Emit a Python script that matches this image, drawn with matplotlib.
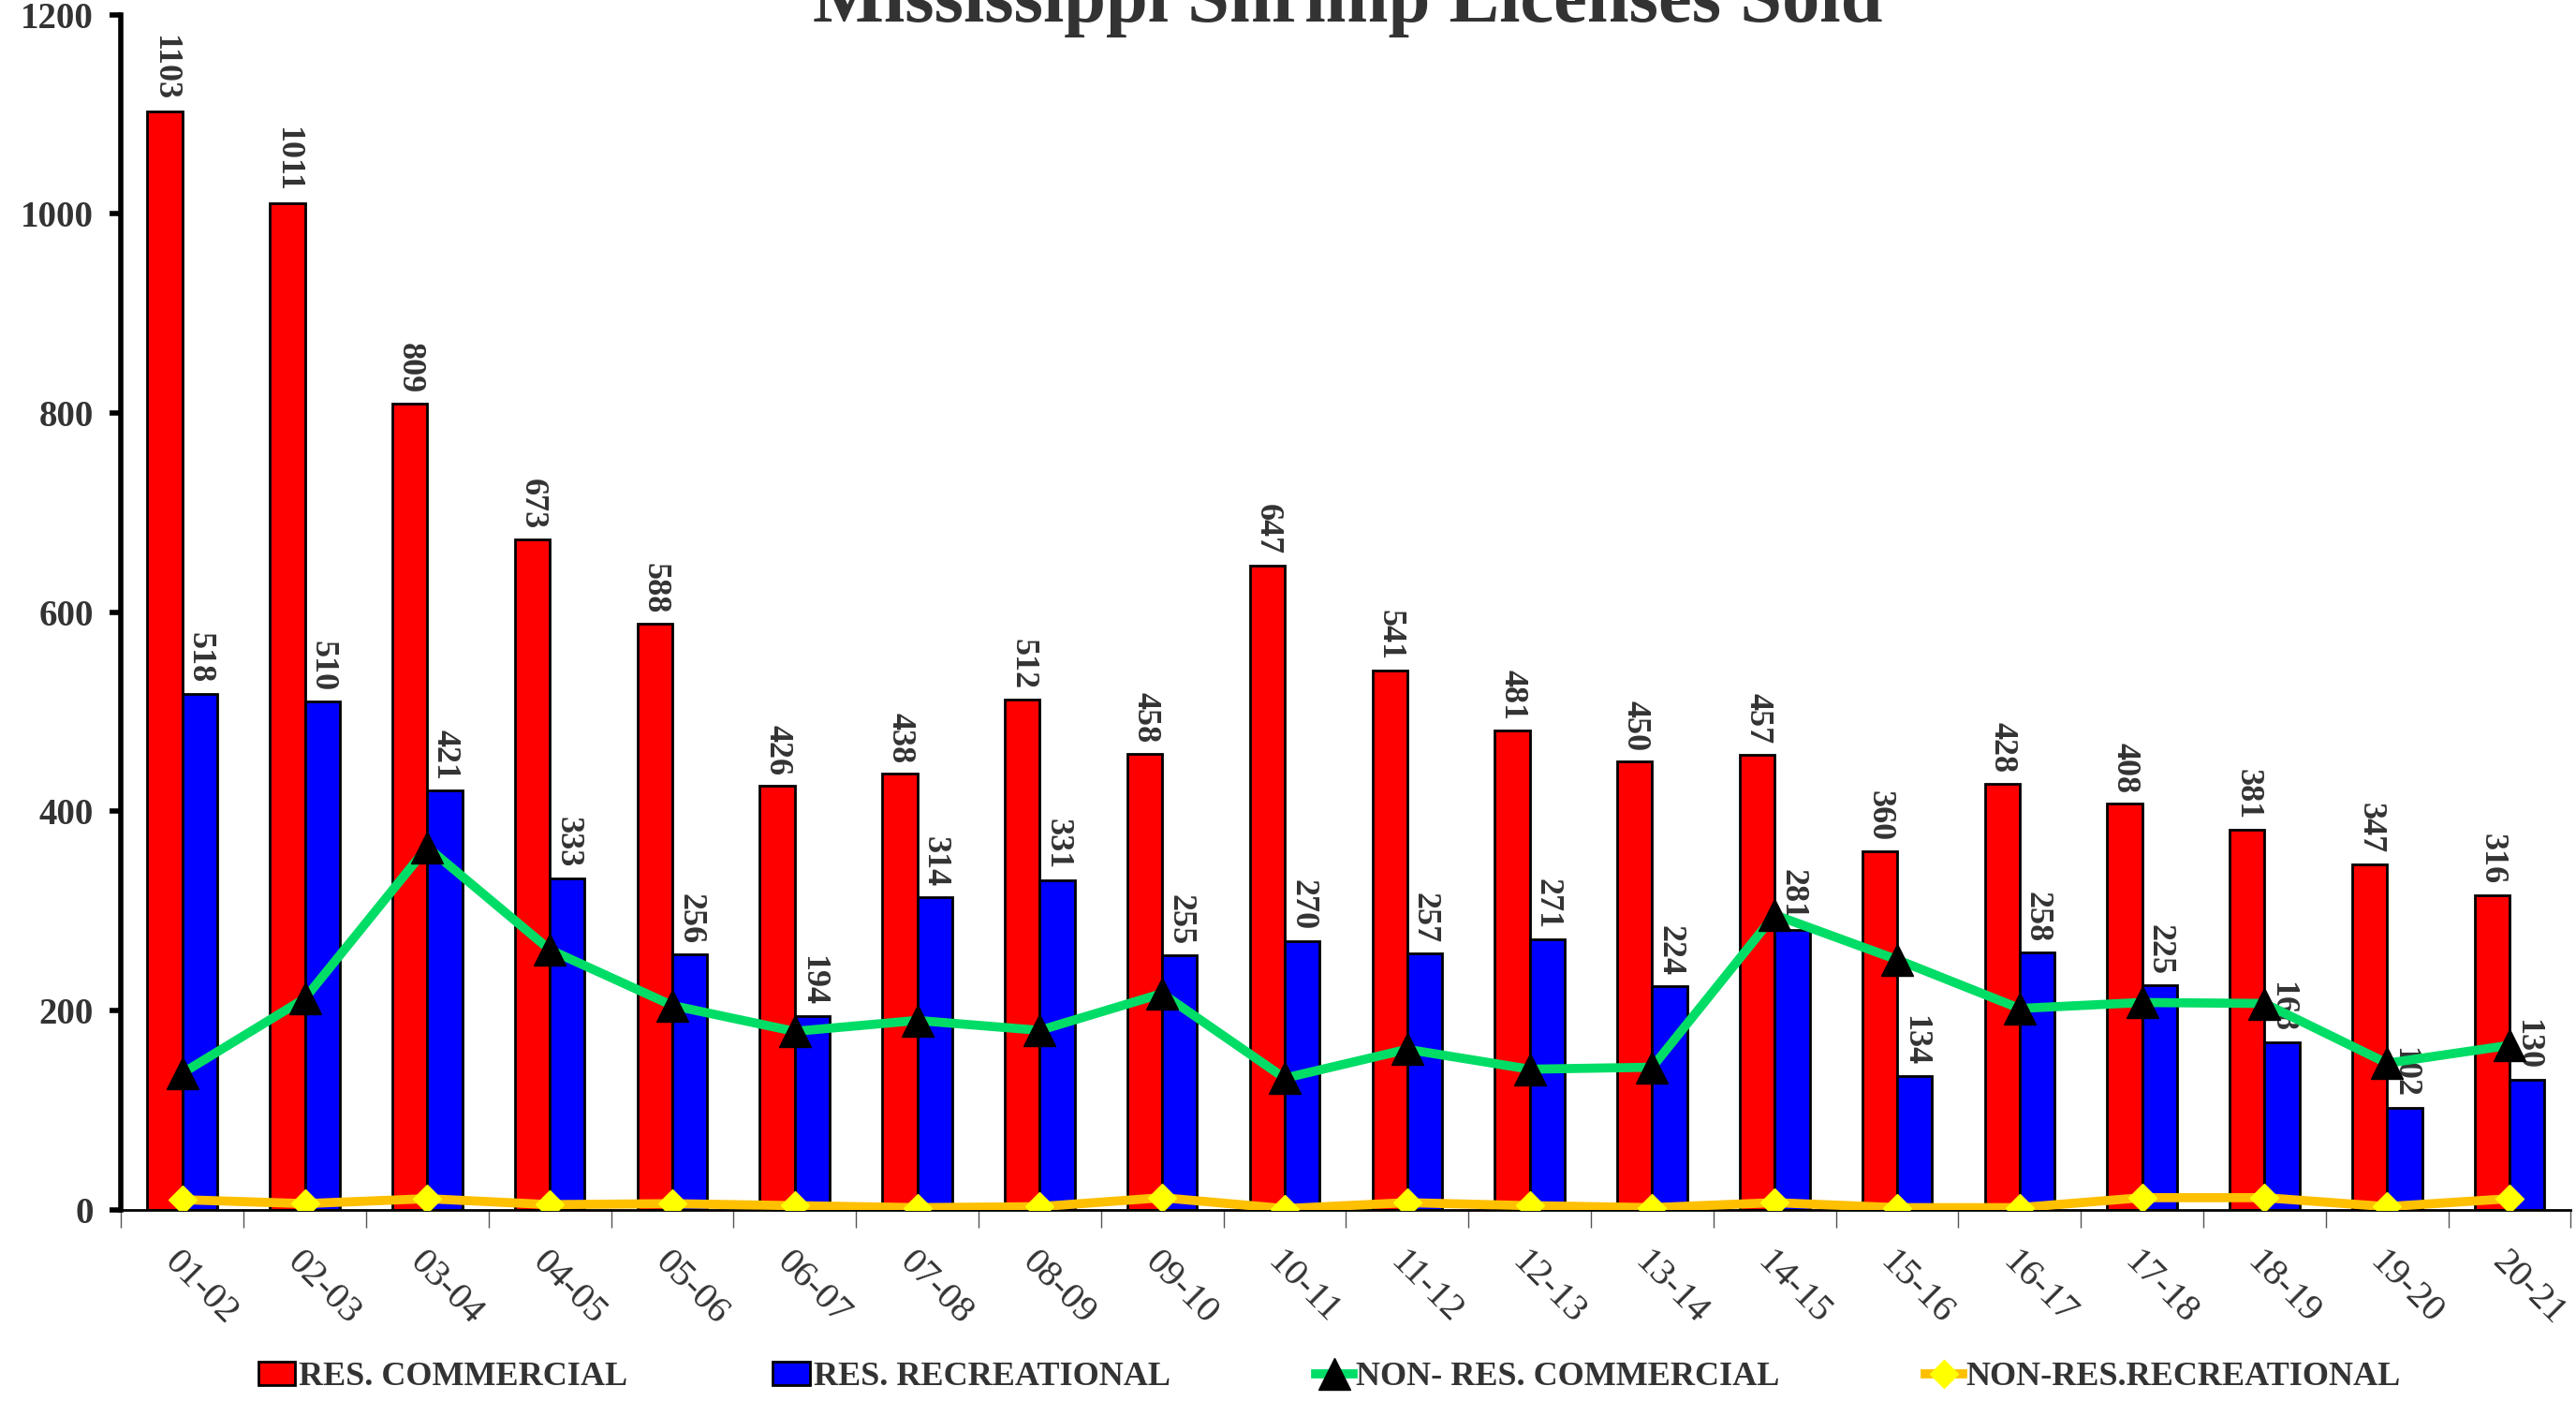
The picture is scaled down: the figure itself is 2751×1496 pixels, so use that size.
import numpy as np
import matplotlib
matplotlib.use("Agg")
import matplotlib.pyplot as plt
from matplotlib.ticker import FixedLocator

seasons = ["01-02", "02-03", "03-04", "04-05", "05-06", "06-07", "07-08", "08-09", "09-10", "10-11",
           "11-12", "12-13", "13-14", "14-15", "15-16", "16-17", "17-18", "18-19", "19-20", "20-21"]
res_commercial = [1103, 1011, 809, 673, 588, 426, 438, 512, 458, 647,
                  541, 481, 450, 457, 360, 428, 408, 381, 347, 316]
res_recreational = [518, 510, 421, 333, 256, 194, 314, 331, 255, 270,
                    257, 271, 224, 281, 134, 258, 225, 168, 102, 130]
nonres_commercial = [137, 212, 364, 261, 205, 179, 190, 180, 217, 132,
                     161, 141, 143, 296, 251, 202, 208, 207, 147, 165]
nonres_recreational = [10, 6, 11, 5, 6, 4, 2, 3, 12, 1,
                       7, 4, 2, 7, 2, 2, 12, 12, 3, 11]

txt = "#333333"
plt.rcParams["font.family"] = ["Liberation Serif", "DejaVu Serif"]

fig = plt.figure(figsize=(27.51, 14.96), dpi=100)
ax = fig.add_axes([0.047, 0.1366, 0.951, 0.853])

x = np.arange(len(seasons))
w = 0.285
b1 = ax.bar(x - w / 2, res_commercial, w, color="#ff0000", edgecolor="black", linewidth=2,
            label="RES. COMMERCIAL", zorder=2)
b2 = ax.bar(x + w / 2, res_recreational, w, color="#0000ff", edgecolor="black", linewidth=2,
            label="RES. RECREATIONAL", zorder=2)

for bars, vals in [(b1, res_commercial), (b2, res_recreational)]:
    for r, v in zip(bars, vals):
        ax.annotate(str(v), (r.get_x() + r.get_width() / 2, r.get_height()),
                    xytext=(0, 8), textcoords="offset points", rotation=270,
                    ha="center", va="bottom", fontsize=26, fontweight="bold",
                    color=txt, zorder=2.5)

l1, = ax.plot(x, nonres_commercial, color="#00dd66", linewidth=7, marker="^",
              markersize=24, markerfacecolor="black", markeredgecolor="black",
              label="NON- RES. COMMERCIAL", zorder=4)
l2, = ax.plot(x, nonres_recreational, color="#ffc000", linewidth=7, marker="D",
              markersize=15, markerfacecolor="#ffff00", markeredgecolor="#ffff00",
              label="NON-RES.RECREATIONAL", zorder=4)

ax.set_xlim(-0.5, len(seasons) - 0.5)
ax.set_ylim(0, 1200)
ax.set_yticks(range(0, 1201, 200))
ax.tick_params(axis="y", direction="out", length=9, width=4, labelsize=28,
               labelcolor=txt, pad=12)
for t in ax.get_yticklabels():
    t.set_fontweight("bold")

ax.set_xticks(x)
ax.set_xticklabels(seasons, rotation=-45, ha="left", va="top", rotation_mode="anchor",
                   fontsize=29, color=txt)
ax.tick_params(axis="x", which="major", length=0, pad=27)
ax.xaxis.set_minor_locator(FixedLocator(np.arange(-0.5, len(seasons), 1.0)))
ax.tick_params(axis="x", which="minor", length=14, width=1, color="#555555")

for s in ["top", "right"]:
    ax.spines[s].set_visible(False)
ax.spines["left"].set_linewidth(4)
ax.spines["bottom"].set_linewidth(2)

fig.text(0.523, 1 - 23 / 1496, "Mississippi Shrimp Licenses Sold", ha="center",
         va="baseline", fontsize=58, fontweight="bold", color=txt)

leg = fig.legend(handles=[b1, b2, l1, l2], loc="center", bbox_to_anchor=(0.516, 0.017),
                 ncol=4, frameon=False, prop={"size": 26, "weight": "bold"},
                 handlelength=1.1, handletextpad=0.1, columnspacing=4.3, labelcolor=txt)

fig.savefig("out.png", dpi=100)
